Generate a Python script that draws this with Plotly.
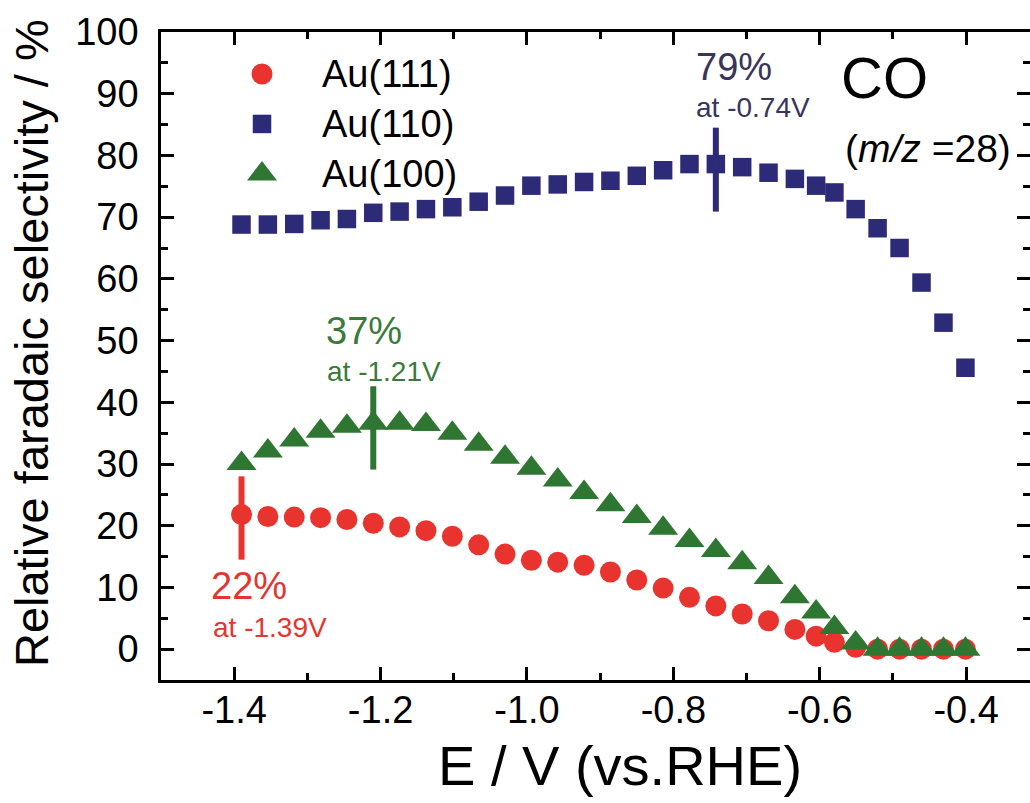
import plotly.graph_objects as go

# ---------------- data ----------------
E = [-1.39, -1.354, -1.318, -1.282, -1.246, -1.21, -1.174, -1.138, -1.102, -1.066,
     -1.03, -0.994, -0.958, -0.922, -0.886, -0.85, -0.814, -0.778, -0.742, -0.706,
     -0.67, -0.634, -0.605, -0.58, -0.551, -0.521, -0.491, -0.461, -0.431, -0.401]
AU111 = [21.8, 21.5, 21.4, 21.3, 21.0, 20.4, 19.8, 19.2, 18.3, 16.9,
         15.4, 14.4, 14.1, 13.6, 12.5, 11.2, 9.9, 8.4, 7.0, 5.7,
         4.6, 3.2, 2.1, 1.1, 0.3, 0.0, 0.0, 0.0, 0.0, 0.0]
AU110 = [68.8, 68.8, 68.9, 69.5, 69.7, 70.7, 70.9, 71.3, 71.6, 72.5,
         73.5, 75.1, 75.3, 75.7, 75.9, 76.7, 77.6, 78.6, 78.6, 78.1,
         77.2, 76.2, 75.1, 74.0, 71.3, 68.2, 65.0, 59.4, 52.9, 45.6]
AU100 = [30.1, 32.1, 33.9, 35.3, 36.1, 36.6, 36.6, 36.4, 35.0, 33.2,
         31.1, 29.3, 27.4, 25.4, 23.4, 21.5, 19.6, 17.6, 16.0, 14.0,
         11.6, 8.5, 6.0, 3.5, 1.0, 0.0, 0.0, 0.0, 0.0, 0.0]

SERIES_NAMES = ["Au(111)", "Au(110)", "Au(100)"]

# peak markers (vertical bars)
PEAK_E = [-1.39, -1.21, -0.742]
PEAK_LO = [14.5, 29.1, 70.9]
PEAK_HI = [28.0, 42.6, 84.5]
PEAK_PCT = ["22%", "37%", "79%"]
PEAK_AT = ["at -1.39V", "at -1.21V", "at -0.74V"]

X_TICKS = [-1.4, -1.2, -1.0, -0.8, -0.6, -0.4]
X_TICKTEXT = ["-1.4", "-1.2", "-1.0", "-0.8", "-0.6", "-0.4"]
Y_TICKS = [0, 10, 20, 30, 40, 50, 60, 70, 80, 90, 100]
Y_TICKTEXT = ["0", "10", "20", "30", "40", "50", "60", "70", "80", "90", "100"]

X_TITLE = "E / V (vs.RHE)"
Y_TITLE = "Relative faradaic selectivity / %"

# ---------------- style ----------------
FONT = "Liberation Sans, Arial, sans-serif"
RED = "#e8332e"
NAVY = "#2d2a78"
GREEN = "#2f7632"
RED_TXT = "#e5352f"
NAVY_TXT = "#38345a"
GREEN_TXT = "#3b7a3b"

fig = go.Figure()

markers = [
    dict(symbol="circle", size=21, color=RED),
    dict(symbol="square", size=18.5, color=NAVY),
    dict(symbol="triangle-up", size=26, color=GREEN),
]
for name, ys, mk in zip(SERIES_NAMES, [AU111, AU110, AU100], markers):
    fig.add_trace(go.Scatter(x=E, y=ys, mode="markers", name=name,
                             marker=dict(symbol=mk["symbol"], size=mk["size"],
                                         color=mk["color"], line=dict(width=0)),
                             showlegend=False))

# peak bars
peak_colors = [RED, GREEN, NAVY]
for xe, lo, hi, c in zip(PEAK_E, PEAK_LO, PEAK_HI, peak_colors):
    fig.add_trace(go.Scatter(x=[xe, xe], y=[lo, hi], mode="lines",
                             line=dict(color=c, width=6), showlegend=False,
                             hoverinfo="skip"))

# manual legend (markers drawn on main axes, text as annotations)
LEG_X = -1.362
LEG_TXT_X = -1.283
LEG_Y = [93.2, 85.1, 77.0]
for name, ly, mk in zip(SERIES_NAMES, LEG_Y, markers):
    fig.add_trace(go.Scatter(x=[LEG_X], y=[ly], mode="markers",
                             marker=dict(symbol=mk["symbol"], size=mk["size"],
                                         color=mk["color"], line=dict(width=0)),
                             showlegend=False, hoverinfo="skip"))
    fig.add_annotation(x=LEG_TXT_X, y=ly, text=name, showarrow=False,
                       xanchor="left", yanchor="middle",
                       font=dict(family=FONT, size=38, color="black"))

# peak labels
pct_pos = [(-1.380, 10.3), (-1.223, 51.5), (-0.717, 94.4)]
at_pos = [(-1.351, 3.5), (-1.195, 45.0), (-0.691, 87.7)]
txt_colors = [RED_TXT, GREEN_TXT, NAVY_TXT]
for pct, at, pp, ap, c in zip(PEAK_PCT, PEAK_AT, pct_pos, at_pos, txt_colors):
    fig.add_annotation(x=pp[0], y=pp[1], text=pct, showarrow=False,
                       xanchor="center", yanchor="middle",
                       font=dict(family=FONT, size=38, color=c))
    fig.add_annotation(x=ap[0], y=ap[1], text=at, showarrow=False,
                       xanchor="center", yanchor="middle",
                       font=dict(family=FONT, size=28, color=c))

fig.add_annotation(x=-0.511, y=92.6, text="CO", showarrow=False,
                   xanchor="center", yanchor="middle",
                   font=dict(family=FONT, size=58, color="black"))
fig.add_annotation(x=-0.452, y=81.2, text="(<i>m/z</i> =28)", showarrow=False,
                   xanchor="center", yanchor="middle",
                   font=dict(family=FONT, size=39, color="black"))

# axis titles
fig.add_annotation(xref="paper", yref="paper", x=0.528, y=-0.1312,
                   text=X_TITLE, showarrow=False, xanchor="center", yanchor="middle",
                   font=dict(family=FONT, size=56, color="black"))
fig.add_annotation(xref="paper", yref="paper", x=-0.1496, y=0.52,
                   text=Y_TITLE, showarrow=False, textangle=-90,
                   xanchor="center", yanchor="middle",
                   font=dict(family=FONT, size=47, color="black"))

axis_common = dict(
    showgrid=False, zeroline=False, showline=True, linecolor="black", linewidth=2.5,
    ticks="inside", ticklen=13, tickwidth=2.5, tickcolor="black",
    mirror="ticks",
    tickfont=dict(family=FONT, size=38, color="black"),
)

fig.update_xaxes(range=[-1.5, -0.3128], tickvals=X_TICKS, ticktext=X_TICKTEXT,
                 ticklabelstandoff=-5,
                 minor=dict(ticks="inside", ticklen=7, tickwidth=2.5, tickcolor="black",
                            dtick=0.1, tick0=-1.5),
                 **axis_common)
fig.update_yaxes(range=[-5, 100], tickvals=Y_TICKS, ticktext=Y_TICKTEXT,
                 ticklabelstandoff=12,
                 minor=dict(ticks="inside", ticklen=7, tickwidth=2.5, tickcolor="black",
                            dtick=5, tick0=0),
                 **axis_common)

fig.update_layout(
    width=1030, height=803,
    margin=dict(l=161, r=0, t=32, b=123, autoexpand=False),
    paper_bgcolor="white", plot_bgcolor="white",
    font=dict(family=FONT),
    showlegend=False,
)

fig.write_html("out.html", config={"displayModeBar": False},
               post_script="document.body.style.margin='0';document.body.style.overflow='hidden';")
